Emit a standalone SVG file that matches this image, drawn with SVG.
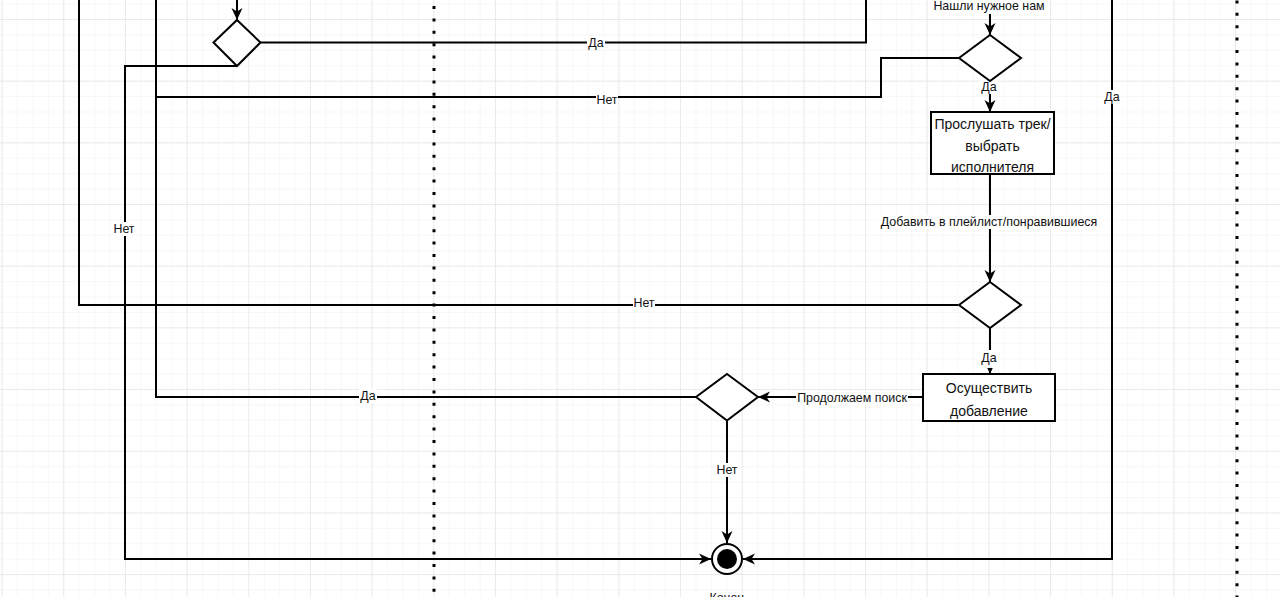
<svg xmlns="http://www.w3.org/2000/svg" width="1280" height="597" viewBox="0 0 1280 597">
<style>
.ln{fill:none;stroke:#000;stroke-width:2}
.sh{fill:#fff;stroke:#000;stroke-width:2}
.lbl{font-family:"Liberation Sans",Arial,sans-serif;font-size:12.4px;fill:#111;text-anchor:middle;dominant-baseline:central}
.box{font-family:"Liberation Sans",Arial,sans-serif;font-size:14px;fill:#111;text-anchor:middle;dominant-baseline:central}
.bg{fill:#fff}
.dot{fill:none;stroke:#000;stroke-width:3;stroke-dasharray:3 9.4}
</style>
<defs>
<pattern id="minor" patternUnits="userSpaceOnUse" x="1.6" y="19" width="15.42" height="15.42">
<path d="M0,0 H15.42 M0,0 V15.42" fill="none" stroke="#f0f0f0" stroke-width="1"/>
</pattern>
<pattern id="major" patternUnits="userSpaceOnUse" x="1.6" y="19" width="61.67" height="61.67">
<path d="M0,0 H61.67 M0,0 V61.67" fill="none" stroke="#dedede" stroke-width="1"/>
</pattern>
<marker id="arr" markerUnits="userSpaceOnUse" markerWidth="14" markerHeight="14" refX="12" refY="6" orient="auto">
<path d="M0,0.5 L12,6 L0,11.5 L3.5,6 z" fill="#000"/>
</marker>
</defs>
<rect width="1280" height="597" fill="#fff"/>
<rect width="1280" height="597" fill="url(#minor)"/>
<rect width="1280" height="597" fill="url(#major)"/>

<g id="swimlanes">
<line class="dot" x1="434" y1="6" x2="434" y2="597"/>
<line class="dot" x1="1237" y1="0.4" x2="1237" y2="597"/>
</g>

<g id="connectors">
<path class="ln" d="M237,0 V20" marker-end="url(#arr)"/>
<path class="ln" d="M260.5,42.5 H866 V0"/>
<path class="ln" d="M237,66 H125 V559 H711" marker-end="url(#arr)"/>
<path class="ln" d="M990,0 V35" marker-end="url(#arr)"/>
<path class="ln" d="M959,58 H881 V97 H156 V0"/>
<path class="ln" d="M990,81 V112" marker-end="url(#arr)"/>
<path class="ln" d="M990,174 V282" marker-end="url(#arr)"/>
<path class="ln" d="M958,305 H79 V0"/>
<path class="ln" d="M990,328 V374" marker-end="url(#arr)"/>
<path class="ln" d="M923,397 H758" marker-end="url(#arr)"/>
<path class="ln" d="M696,397 H156 V97"/>
<path class="ln" d="M727,420.5 V543" marker-end="url(#arr)"/>
<path class="ln" d="M1112,0 V559 H743" marker-end="url(#arr)"/>
</g>

<g id="edge-labels">
<rect class="bg" x="587" y="36" width="18" height="14"/><text class="lbl" x="596" y="43">Да</text>
<rect class="bg" x="596" y="93" width="22" height="14"/><text class="lbl" x="607" y="100">Нет</text>
<rect class="bg" x="113" y="222" width="22" height="14"/><text class="lbl" x="124" y="229">Нет</text>
<rect class="bg" x="633" y="296" width="22" height="14"/><text class="lbl" x="644" y="303">Нет</text>
<rect class="bg" x="359" y="389" width="18" height="14"/><text class="lbl" x="368" y="396">Да</text>
<rect class="bg" x="796" y="391" width="112" height="14"/><text class="lbl" x="852" y="398">Продолжаем поиск</text>
<rect class="bg" x="716" y="463" width="22" height="14"/><text class="lbl" x="727" y="470">Нет</text>
<rect class="bg" x="1103" y="90" width="18" height="14"/><text class="lbl" x="1112" y="97">Да</text>
<rect class="bg" x="980" y="80" width="18" height="14"/><text class="lbl" x="989" y="87">Да</text>
<rect class="bg" x="980" y="350" width="18" height="18"/><text class="lbl" x="989" y="358">Да</text>
<rect class="bg" x="931" y="0" width="118" height="14"/><text class="lbl" x="989" y="6">Нашли нужное нам</text>
<rect class="bg" x="878" y="215" width="222" height="14"/><text class="lbl" x="989" y="222">Добавить в плейлист/понравившиеся</text>
</g>

<g id="decision1"><path class="sh" d="M237,20 L260.5,42.5 L237,66 L213.5,42.5 z"/></g>
<g id="decision2"><path class="sh" d="M990,35 L1021,58 L990,81 L959,58 z"/></g>
<g id="decision3"><path class="sh" d="M990,282 L1021,305 L990,328 L959,305 z"/></g>
<g id="decision4"><path class="sh" d="M727,374 L758,397 L727,420.5 L696,397 z"/></g>

<g id="listen">
<rect class="sh" x="931" y="112" width="123" height="62"/>
<text class="box" x="992.5" y="124">Прослушать трек/</text>
<text class="box" x="992.5" y="146">выбрать</text>
<text class="box" x="992.5" y="167">исполнителя</text>
</g>

<g id="add">
<rect class="sh" x="923" y="374" width="132" height="47"/>
<text class="box" x="989" y="388">Осуществить</text>
<text class="box" x="989" y="411">добавление</text>
</g>

<g id="end">
<circle cx="727" cy="559" r="15" fill="#fff" stroke="#000" stroke-width="2"/>
<circle cx="727" cy="559" r="10" fill="#000"/>
<text class="lbl" x="727" y="598">Конец</text>
</g>
</svg>
